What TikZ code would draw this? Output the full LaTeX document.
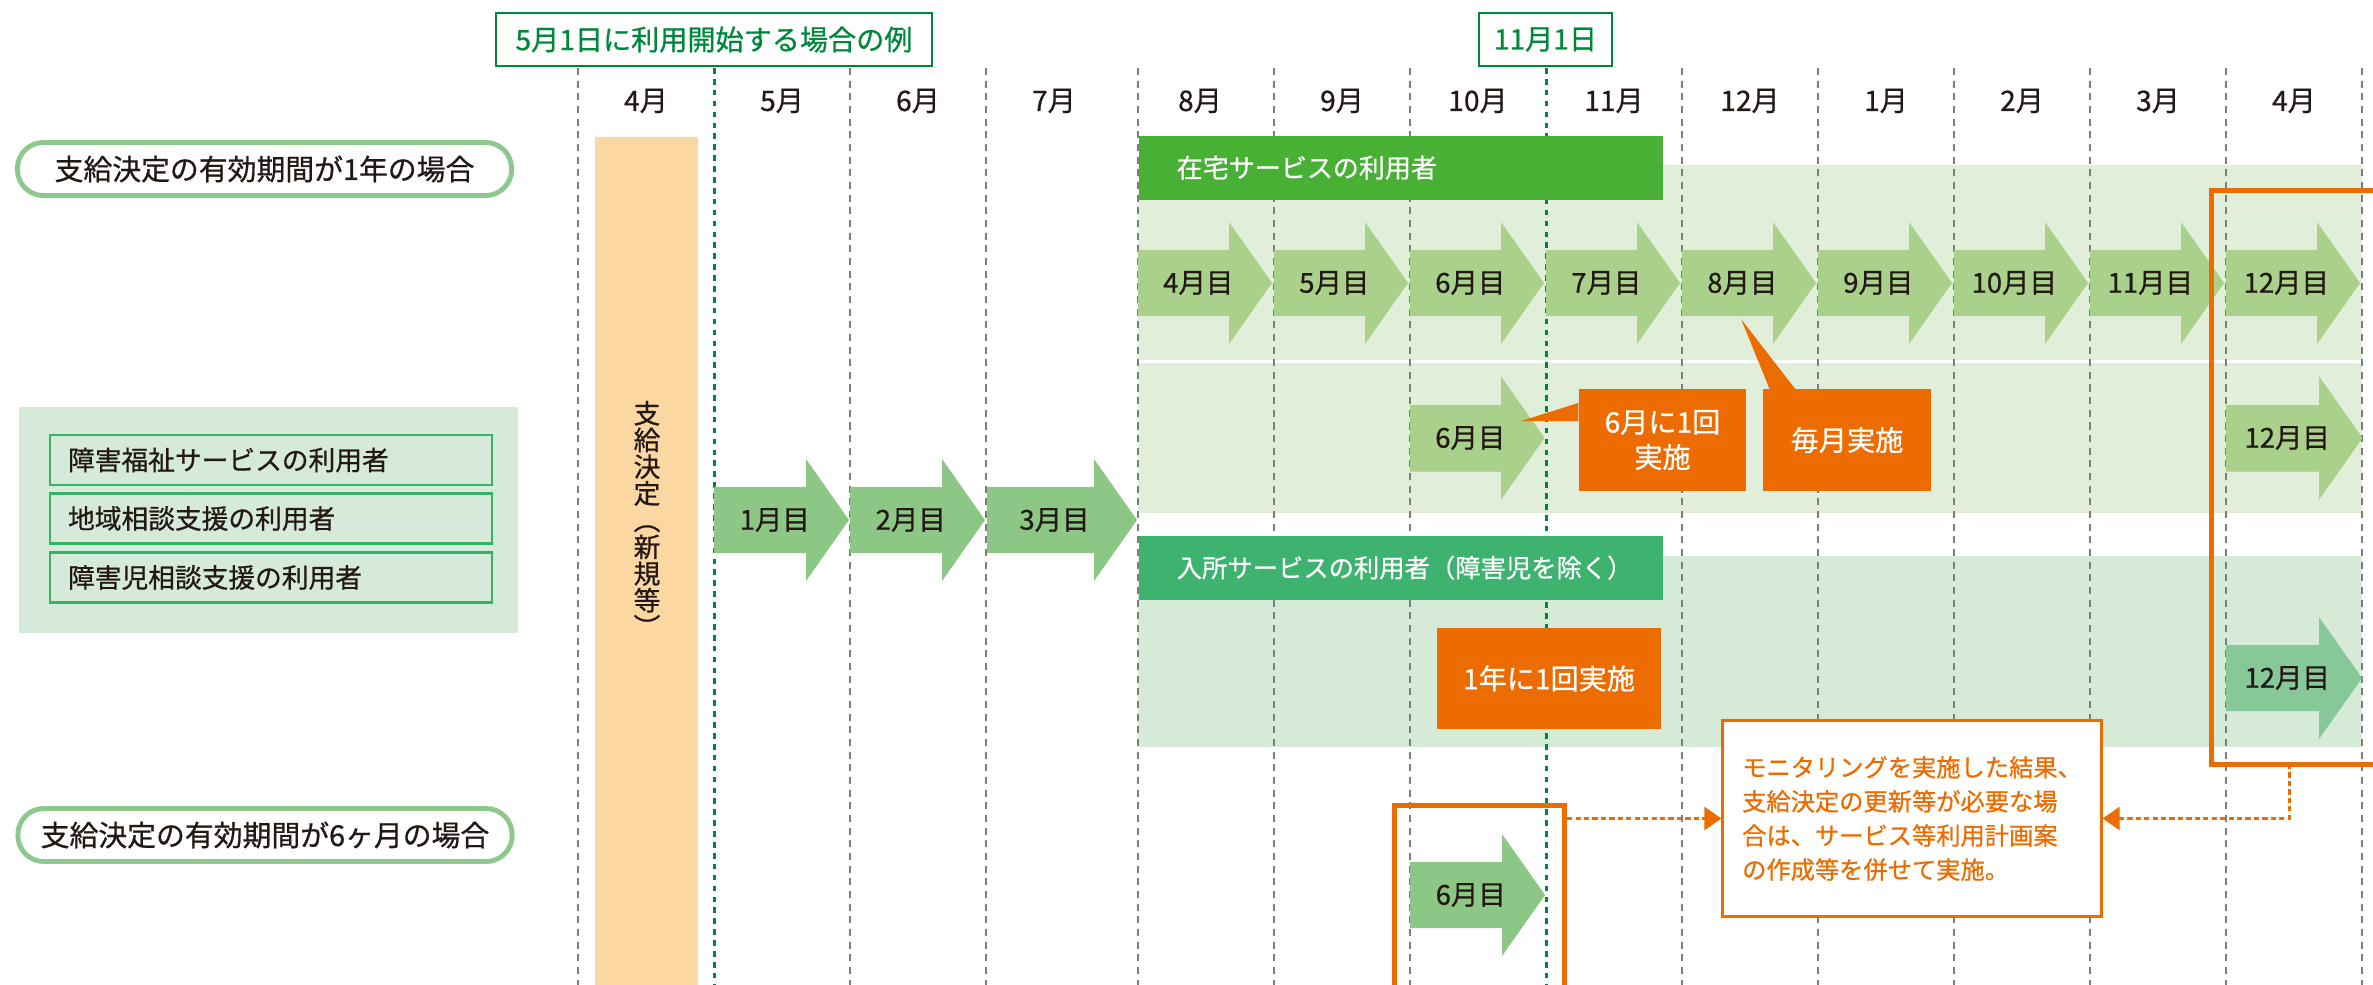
\documentclass[tikz,border=0pt]{standalone}
\usepackage{fontspec}
\setmainfont{Noto Sans CJK JP}[RawFeature={embolden=0.7}]
\usetikzlibrary{arrows.meta}
\definecolor{mwtext}{HTML}{231815}
\definecolor{mwgray}{HTML}{7D7D7D}
\definecolor{mwgreen}{HTML}{00873C}
\definecolor{mwpill}{HTML}{8DC98C}
\definecolor{mwpanel}{HTML}{D5EAD8}
\definecolor{mwboxline}{HTML}{34B464}
\definecolor{mwpeach}{HTML}{FBD7A1}
\definecolor{mwbandA}{HTML}{E1EED9}
\definecolor{mwbandB}{HTML}{D5EAD7}
\definecolor{mwhome}{HTML}{48B035}
\definecolor{mwresid}{HTML}{3EB370}
\definecolor{mwarrowA}{HTML}{A9D18B}
\definecolor{mwarrowB}{HTML}{8CC785}
\definecolor{mwarrowC}{HTML}{87C898}
\definecolor{mworange}{HTML}{EC6C00}

\tikzset{
  gridline/.style={draw=mwgray, line width=0.55pt, dash pattern=on 2pt off 1.6pt},
  startline/.style={draw=mwgreen, line width=0.85pt, dash pattern=on 1.6pt off 1.5pt},
  monthlabel/.style={text=mwtext, inner sep=0pt, font=\fontsize{8}{9}\selectfont},
  markbox/.style={draw=mwgreen, line width=0.7pt, fill=white, text=mwgreen, minimum height=0.53cm, inner sep=0pt, font=\fontsize{8}{9}\selectfont},
  casepill/.style={draw=mwpill, line width=1.4pt, fill=white, rounded corners=0.26cm, minimum width=4.94cm, minimum height=0.53cm, text=mwtext, font=\fontsize{8.2}{9}\selectfont},
  userbox/.style={draw=mwboxline, line width=0.6pt, fill=mwpanel, anchor=west, minimum height=0.5cm, text width=4.06cm, inner xsep=0.18cm, align=left, text=mwtext, font=\fontsize{7.6}{9}\selectfont},
  titlebar/.style={anchor=north west, minimum height=0.64cm, text width=4.48cm, inner xsep=0.38cm, inner ysep=0pt, align=left, text=white, font=\fontsize{7.4}{9}\selectfont},
  arrowtext/.style={text=mwtext, inner sep=0pt, font=\fontsize{7.8}{9}\selectfont},
  dobox/.style={fill=mworange, text=white, align=center, inner sep=0pt, font=\fontsize{8}{10}\selectfont},
  orangeframe/.style={draw=mworange, line width=1.42pt, anchor=north west, inner sep=0pt},
  notebox/.style={draw=mworange, line width=0.85pt, fill=white, text=mworange, align=left, minimum width=3.78cm, minimum height=1.95cm, font=\fontsize{6.9}{9.7}\selectfont},
  noteline/.style={draw=mworange, line width=0.85pt, dash pattern=on 1.5pt off 0.9pt, -{Triangle[length=0.17cm,width=0.23cm]}},
}

% block arrow with its label: name, x, y, length, colour, text
\newcommand{\monthArrow}[6]{%
  \fill[#5] (#2,#3-33) -- (#2+#4-43,#3-33) -- (#2+#4-43,#3-61) -- (#2+#4,#3)
    -- (#2+#4-43,#3+61) -- (#2+#4-43,#3+33) -- (#2,#3+33) -- cycle;
  \node[arrowtext] (#1) at (#2+0.45*#4,#3) {#6};
}

\begin{document}
\begin{tikzpicture}[x=0.01cm, y=-0.01cm]
\useasboundingbox (0,0) rectangle (2373,985);

% background bands
\fill[mwbandA] (1138,165) rectangle (2362,360);
\fill[mwbandA] (1138,363) rectangle (2362,513);
\fill[mwbandB] (1138,556) rectangle (2362,747);
\fill[mwpanel] (19,407) rectangle (518,633);

% month grid
\foreach \gx in {578,850,986,1138,1274,1410,1682,1818,1954,2090,2226,2362}
  \draw[gridline] (\gx,68) -- (\gx,985);
\draw[startline] (714,68) -- (714,985);
\draw[startline] (1546,68) -- (1546,985);

% header
\node[markbox, minimum width=4.36cm] (startMark) at (714,39.5) {5月1日に利用開始する場合の例};
\node[markbox, minimum width=1.33cm] (novMark) at (1545.5,39.5) {11月1日};
\foreach \mx/\mn [count=\i] in {646/4,782/5,918/6,1054/7,1200/8,1342/9,1478/10,1614/11,1750/12,1886/1,2022/2,2158/3,2294/4}
  \node[monthlabel] (month\i) at (\mx,101) {\mn 月};

% left side
\node[casepill] (caseYear) at (264.5,169) {支給決定の有効期間が1年の場合};
\node[casepill] (caseHalf) at (265,835) {支給決定の有効期間が6ヶ月の場合};
\node[userbox] (userWelfare) at (49,460) {障害福祉サービスの利用者};
\node[userbox] (userRegion) at (49,518.5) {地域相談支援の利用者};
\node[userbox] (userChild) at (49,577.5) {障害児相談支援の利用者};

% decision bar
\node[fill=mwpeach, anchor=north west, minimum width=1.03cm, minimum height=8.6cm, inner sep=0pt] (decisionBar) at (594,136) {};
\node[text=mwtext, align=center, inner sep=0pt, font=\fontsize{7.6}{7.6}\selectfont] (decisionText) at (647,519) {支\\給\\決\\定\\︵\\新\\規\\等\\︶};

% first three months
\monthArrow{firstA}{714}{520}{135}{mwarrowB}{1月目}
\monthArrow{firstB}{850}{520}{135}{mwarrowB}{2月目}
\monthArrow{firstC}{987}{520}{150}{mwarrowB}{3月目}

% in-home services
\node[titlebar, fill=mwhome] (homeBar) at (1138,135) {在宅サービスの利用者};
\foreach \px/\lab [count=\i] in {1138/4,1274/5,1410/6,1546/7,1682/8,1818/9,1954/10,2090/11,2226/12}
  \monthArrow{home\i}{\px}{283}{134}{mwarrowA}{\lab 月目}
\monthArrow{homeSix}{1410}{438}{134}{mwarrowA}{6月目}
\monthArrow{homeTwelve}{2226}{438}{136}{mwarrowA}{12月目}
\node[dobox, minimum width=1.67cm, minimum height=1.02cm] (onceSix) at (1662.5,440) {6月に1回\\実施};
\fill[mworange] (onceSix.west |- 0,403) -- (1521,421) -- (onceSix.west |- 0,421) -- cycle;
\node[dobox, minimum width=1.68cm, minimum height=1.02cm] (everyMonth) at (1847,440) {毎月実施};
\fill[mworange] (1741,319) -- (1796,390) -- (1770,390) -- cycle;

% residential services
\node[titlebar, fill=mwresid, font=\fontsize{7.2}{9}\selectfont] (residBar) at (1138,535) {入所サービスの利用者（障害児を除く）};
\node[dobox, minimum width=2.24cm, minimum height=1.01cm] (onceYear) at (1549,678.5) {1年に1回実施};
\monthArrow{residTwelve}{2226}{678}{136}{mwarrowC}{12月目}

% six-month case
\monthArrow{halfSix}{1410}{895}{135}{mwarrowB}{6月目}

% renewal frames and note
\node[orangeframe, minimum width=1.70cm, minimum height=2.2cm] (frameSix) at (1392,803) {};
\node[orangeframe, minimum width=2.0cm, minimum height=5.74cm] (frameTwelve) at (2209,188) {};
\node[notebox] (noteBox) at (1912,818.5) {モニタリングを実施した結果、\\支給決定の更新等が必要な場\\合は、サービス等利用計画案\\の作成等を併せて実施。};
\coordinate (fromTwelve) at (2289,764);
\draw[noteline] (frameSix.east |- noteBox.west) -- (noteBox.west);
\draw[noteline] (fromTwelve) |- (noteBox.east);
\end{tikzpicture}
\end{document}
